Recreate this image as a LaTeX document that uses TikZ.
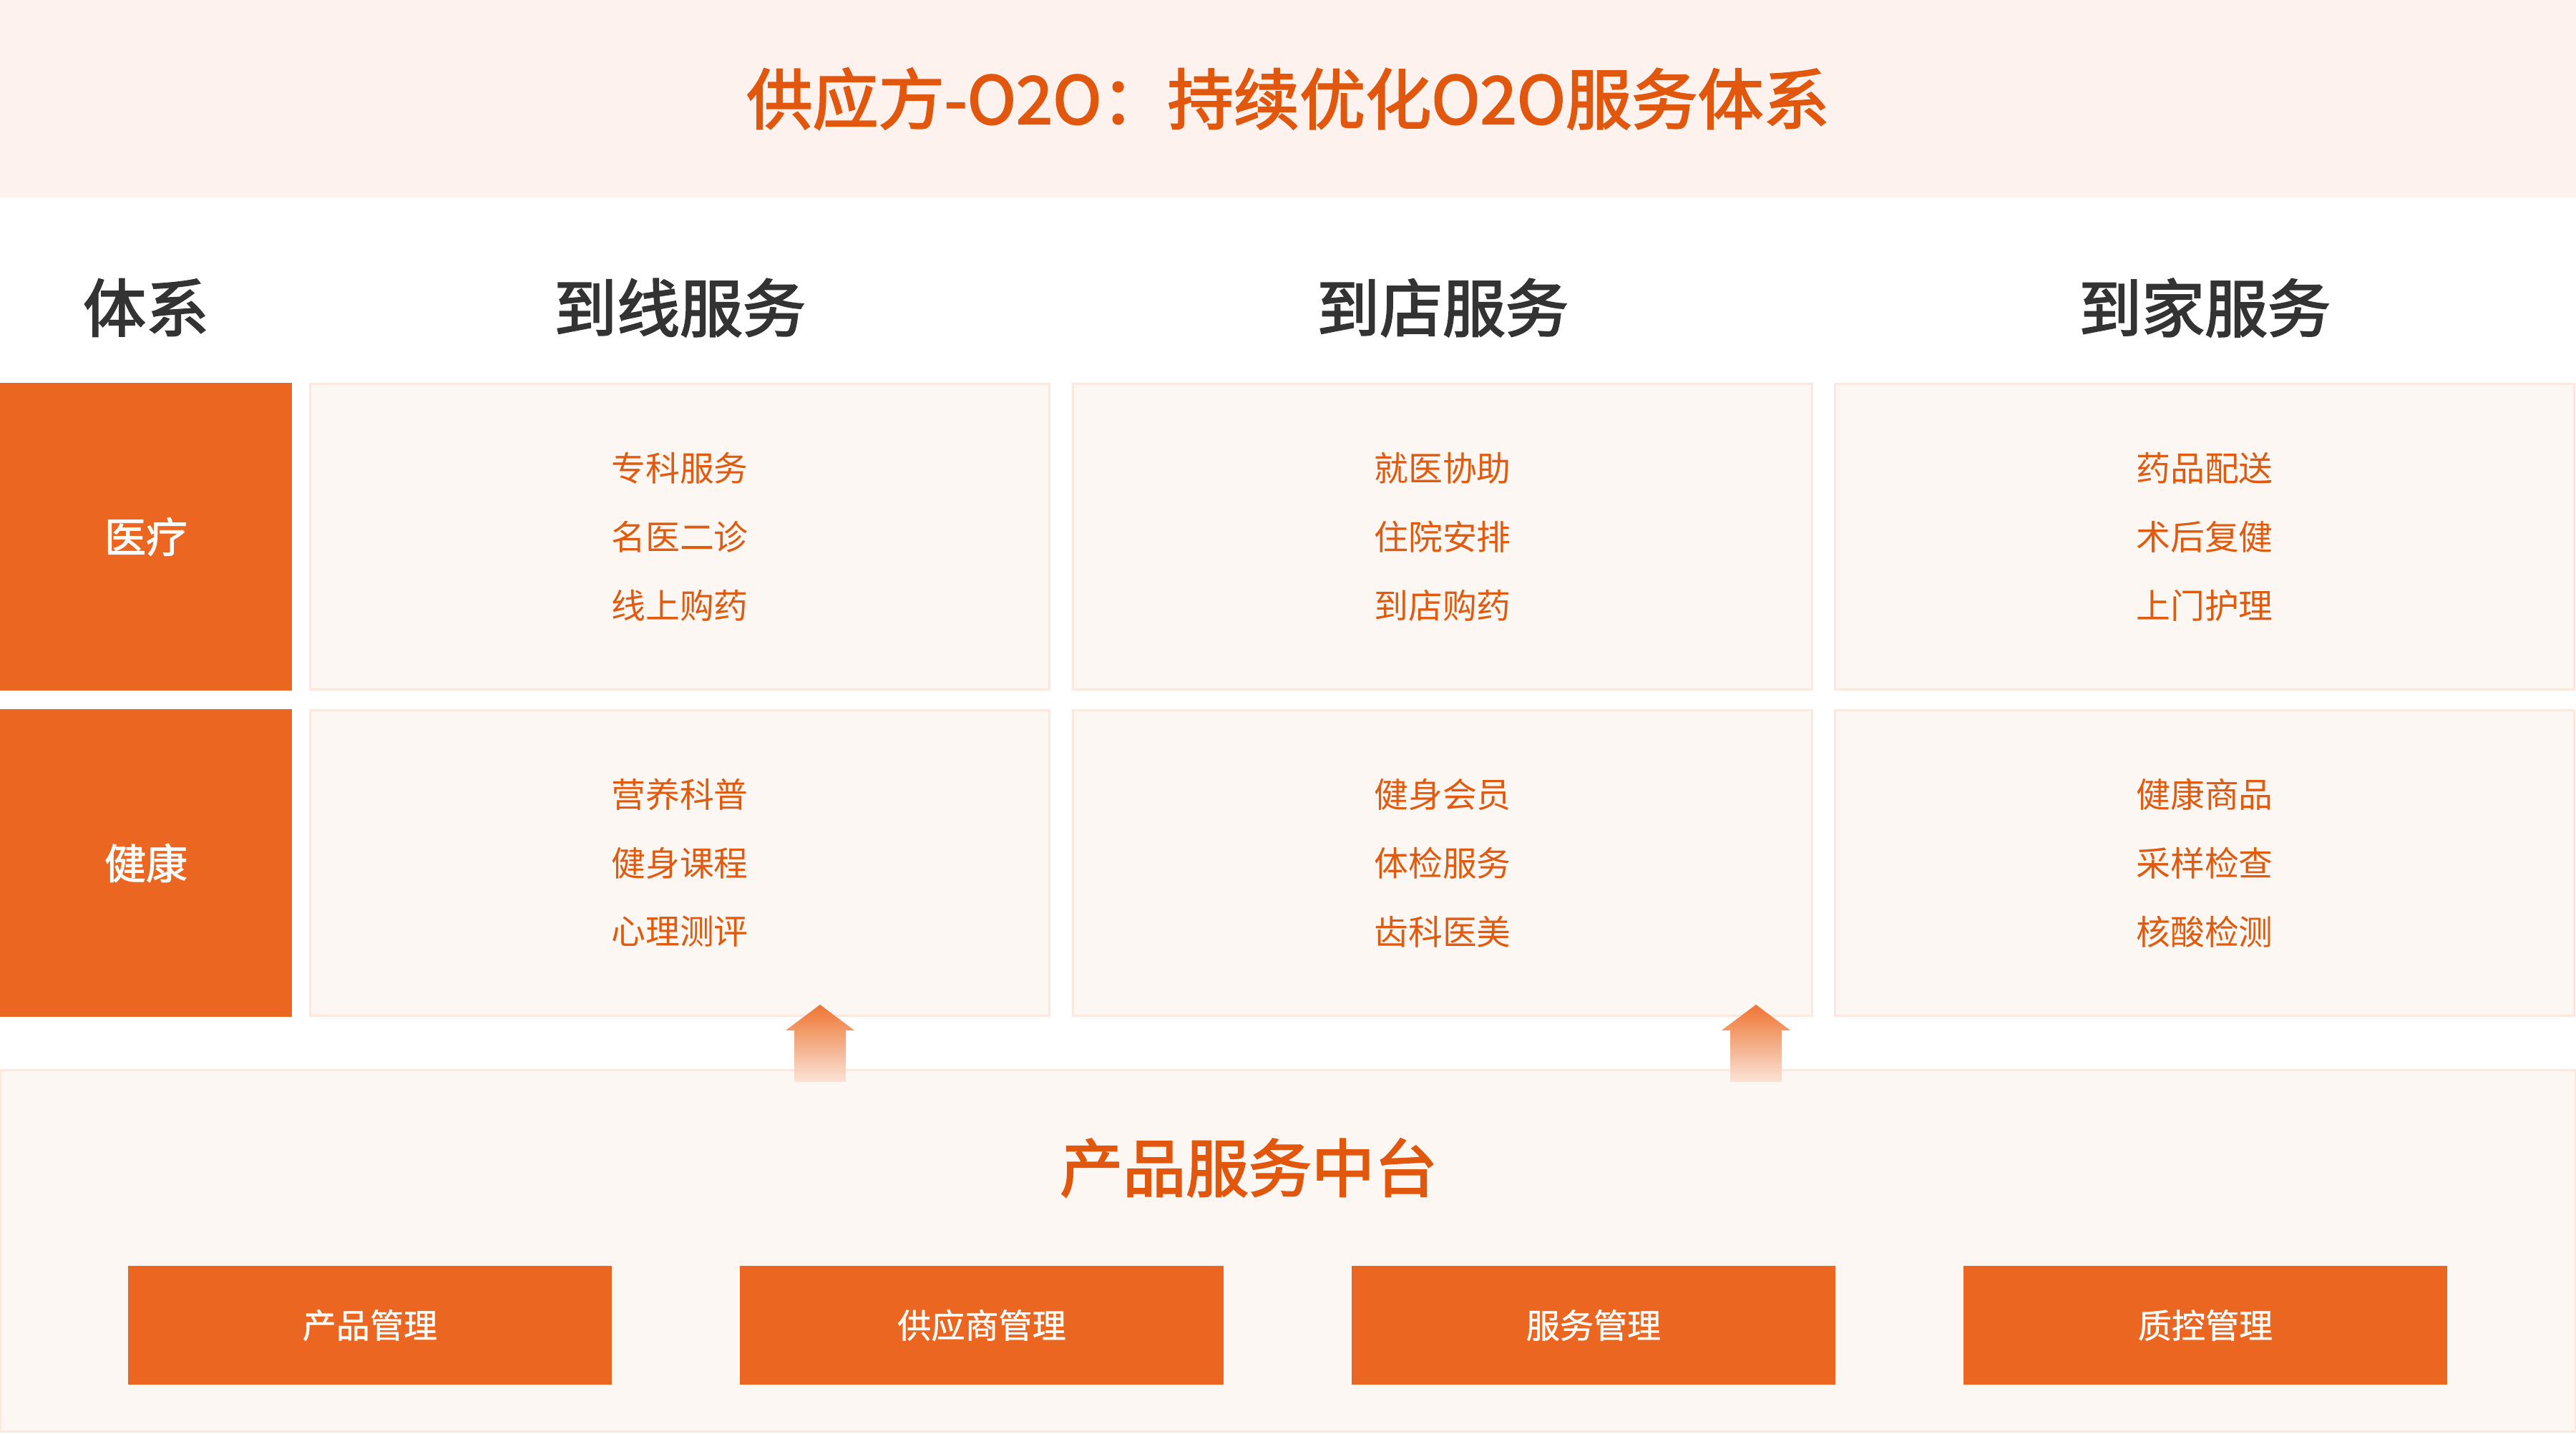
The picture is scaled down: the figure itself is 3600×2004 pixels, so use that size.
\documentclass[tikz,border=0pt]{standalone}
\usepackage{fontspec}
\setmainfont{Noto Sans CJK SC}
\newfontfamily\cjkheavy[FakeBold=2.4]{Noto Sans CJK SC}
\newfontfamily\cjkmid[FakeBold=1.6]{Noto Sans CJK SC}
\newfontfamily\cjklight[FakeBold=0.8]{Noto Sans CJK SC}
\definecolor{bandbg}{HTML}{FDF2EE}
\definecolor{cellbg}{HTML}{FCF7F3}
\definecolor{cellline}{HTML}{FCE8DF}
\definecolor{main}{HTML}{EB6620}
\definecolor{titletxt}{HTML}{E2570E}
\definecolor{headtxt}{HTML}{333333}
\definecolor{itemtxt}{HTML}{E05A10}
\definecolor{arrtop}{HTML}{EE7533}
\definecolor{arrbot}{HTML}{FAE3D6}
\begin{document}
\begin{tikzpicture}[x=0.01cm,y=-0.01cm,
  every node/.style={inner sep=0pt, outer sep=0pt},
  band/.style={fill=bandbg, draw=none},
  cell/.style={fill=cellbg, draw=cellline, line width=0.85pt, minimum width=10.32cm, minimum height=4.27cm},
  side/.style={fill=main, minimum width=4.08cm, minimum height=4.30cm, text=white, font=\cjkmid\fontsize{16.5}{20}\selectfont},
  maintitle/.style={text=titletxt, font=\cjkheavy\fontsize{26.2}{30}\selectfont},
  head/.style={text=headtxt, font=\cjkheavy\fontsize{25}{30}\selectfont},
  item/.style={text=itemtxt, font=\fontsize{13.6}{16}\selectfont},
  mod/.style={fill=main, minimum width=6.75cm, minimum height=1.65cm, text=white, font=\cjklight\fontsize{13.4}{16}\selectfont},
  uparrow/.style={draw=none, top color=arrtop, bottom color=arrbot}
]
\useasboundingbox (0,0) rectangle (3600,2004);
\fill[white] (0,0) rectangle (3600,2004);
% title band
\node[band, minimum width=36cm, minimum height=2.76cm, anchor=north west] (band) at (0,0) {};
\node[maintitle] (title) at (1800,138) {供应方-O2O：持续优化O2O服务体系};
% headers
\node[head] (hsys) at (204,430) {体系};
\node[head] (h1) at (950,430) {到线服务};
\node[head] (h2) at (2016,430) {到店服务};
\node[head] (h3) at (3081,430) {到家服务};
% side labels
\node[side] (med) at (204,750) {医疗};
\node[side] (hea) at (204,1206) {健康};
% cells
\node[cell] (c11) at (950,750) {};
\node[cell] (c12) at (2016,750) {};
\node[cell] (c13) at (3081,750) {};
\node[cell] (c21) at (950,1206) {};
\node[cell] (c22) at (2016,1206) {};
\node[cell] (c23) at (3081,1206) {};
% items row 1
\node[item] (t11a) at (950,654) {专科服务};
\node[item] (t11b) at (950,750) {名医二诊};
\node[item] (t11c) at (950,846) {线上购药};
\node[item] (t12a) at (2016,654) {就医协助};
\node[item] (t12b) at (2016,750) {住院安排};
\node[item] (t12c) at (2016,846) {到店购药};
\node[item] (t13a) at (3081,654) {药品配送};
\node[item] (t13b) at (3081,750) {术后复健};
\node[item] (t13c) at (3081,846) {上门护理};
% items row 2
\node[item] (t21a) at (950,1110) {营养科普};
\node[item] (t21b) at (950,1206) {健身课程};
\node[item] (t21c) at (950,1302) {心理测评};
\node[item] (t22a) at (2016,1110) {健身会员};
\node[item] (t22b) at (2016,1206) {体检服务};
\node[item] (t22c) at (2016,1302) {齿科医美};
\node[item] (t23a) at (3081,1110) {健康商品};
\node[item] (t23b) at (3081,1206) {采样检查};
\node[item] (t23c) at (3081,1302) {核酸检测};
% bottom panel
\node[cell, minimum width=35.97cm, minimum height=5.05cm] (panel) at (1800,1748) {};
\node[head, text=titletxt] (ptitle) at (1745,1632) {产品服务中台};
\node[mod] (m1) at (517,1852) {产品管理};
\node[mod] (m2) at (1372,1852) {供应商管理};
\node[mod] (m3) at (2227,1852) {服务管理};
\node[mod] (m4) at (3082,1852) {质控管理};
% arrows
\coordinate (a1) at (1146,1404);
\coordinate (a2) at (2454,1404);
\shade[uparrow] (a1) -- ++(48,36) -- ++(-12,0) -- ++(0,72) -- ++(-72,0) -- ++(0,-72) -- ++(-12,0) -- cycle;
\shade[uparrow] (a2) -- ++(48,36) -- ++(-12,0) -- ++(0,72) -- ++(-72,0) -- ++(0,-72) -- ++(-12,0) -- cycle;
\end{tikzpicture}
\end{document}
